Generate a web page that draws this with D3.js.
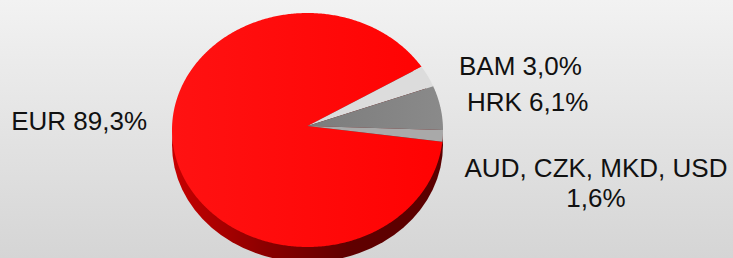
<!DOCTYPE html>
<html>
<head>
<meta charset="utf-8">
<script src="https://cdn.jsdelivr.net/npm/d3@7"></script>
<style>
  html, body { margin: 0; padding: 0; overflow: hidden; }
  svg { display: block; }
</style>
</head>
<body>
<svg id="chart" width="733" height="258"></svg>
<script>
// ---- data ----
const categories = ["EUR", "BAM", "HRK", "AUD, CZK, MKD, USD"];
const values = [89.3, 3.0, 6.1, 1.6];
const labels = [["EUR 89,3%"], ["BAM 3,0%"], ["HRK 6,1%"], ["AUD, CZK, MKD, USD", "1,6%"]];
const colors = ["#ff0a0a", "#dcdcdc", "#858585", "#a9a9a9"];

// ---- layout ----
const W = 733, H = 258;
const cx = 307.5, cy = 130, rx = 135.5, ry = 117;
const apex = { x: 307.5, y: 126 };
const depth = 15;
const endEUR = 57.3 * Math.PI / 180; // angle where EUR ends (clockwise from 12 o'clock)
const total = d3.sum(values);
const startAngle = endEUR - (values[0] / total) * 2 * Math.PI;

const svg = d3.select("#chart");
const defs = svg.append("defs");

const bg = defs.append("linearGradient").attr("id", "bg").attr("x1", 0).attr("y1", 0).attr("x2", 0).attr("y2", 1);
bg.append("stop").attr("offset", "0%").attr("stop-color", "#f2f2f2");
bg.append("stop").attr("offset", "100%").attr("stop-color", "#d5d5d5");

const side = defs.append("linearGradient").attr("id", "side").attr("x1", 0).attr("y1", 0).attr("x2", 1).attr("y2", 0);
side.append("stop").attr("offset", "0%").attr("stop-color", "#c80000");
side.append("stop").attr("offset", "35%").attr("stop-color", "#8a0000");
side.append("stop").attr("offset", "65%").attr("stop-color", "#600000");
side.append("stop").attr("offset", "100%").attr("stop-color", "#5a0000");

const redG = defs.append("linearGradient").attr("id", "red").attr("x1", 0).attr("y1", 0).attr("x2", 1).attr("y2", 0);
redG.append("stop").attr("offset", "0%").attr("stop-color", "#ff1212");
redG.append("stop").attr("offset", "100%").attr("stop-color", "#ff0202");

const grayG = defs.append("linearGradient").attr("id", "gray").attr("x1", 0).attr("y1", 0).attr("x2", 1).attr("y2", 0);
grayG.append("stop").attr("offset", "0%").attr("stop-color", "#7c7c7c");
grayG.append("stop").attr("offset", "100%").attr("stop-color", "#8a8a8a");

const fills = ["url(#red)", colors[1], "url(#gray)", colors[3]];

svg.append("rect").attr("width", W).attr("height", H).attr("fill", "url(#bg)");

// side (extrusion)
svg.append("ellipse")
  .attr("cx", cx).attr("cy", cy + depth).attr("rx", rx).attr("ry", ry)
  .attr("fill", "url(#side)");

const pie = d3.pie().sort(null).startAngle(startAngle).endAngle(startAngle + 2 * Math.PI);
const arcs = pie(values);

const pt = a => [cx + rx * Math.sin(a), cy - ry * Math.cos(a)];
const line = d3.line();

function slicePath(d) {
  const n = Math.max(2, Math.ceil((d.endAngle - d.startAngle) / 0.01));
  const pts = [[apex.x, apex.y]];
  for (let i = 0; i <= n; i++) {
    pts.push(pt(d.startAngle + (d.endAngle - d.startAngle) * i / n));
  }
  return line(pts) + "Z";
}

svg.append("g").selectAll("path")
  .data(arcs)
  .join("path")
  .attr("d", slicePath)
  .attr("fill", (d, i) => fills[i]);

// labels
const labelPos = [
  { x: 147, y: 130, anchor: "end" },
  { x: 459, y: 75, anchor: "start" },
  { x: 467, y: 111, anchor: "start" },
  { x: 596, y: 177, anchor: "middle" }
];

const lg = svg.append("g")
  .attr("font-family", "'Liberation Sans', Arial, sans-serif")
  .attr("font-size", 26)
  .attr("fill", "#111");

labels.forEach((lines, i) => {
  const t = lg.append("text")
    .attr("x", labelPos[i].x).attr("y", labelPos[i].y)
    .attr("text-anchor", labelPos[i].anchor);
  lines.forEach((s, j) => {
    t.append("tspan").attr("x", labelPos[i].x).attr("dy", j === 0 ? 0 : 30).text(s);
  });
});
</script>
</body>
</html>
